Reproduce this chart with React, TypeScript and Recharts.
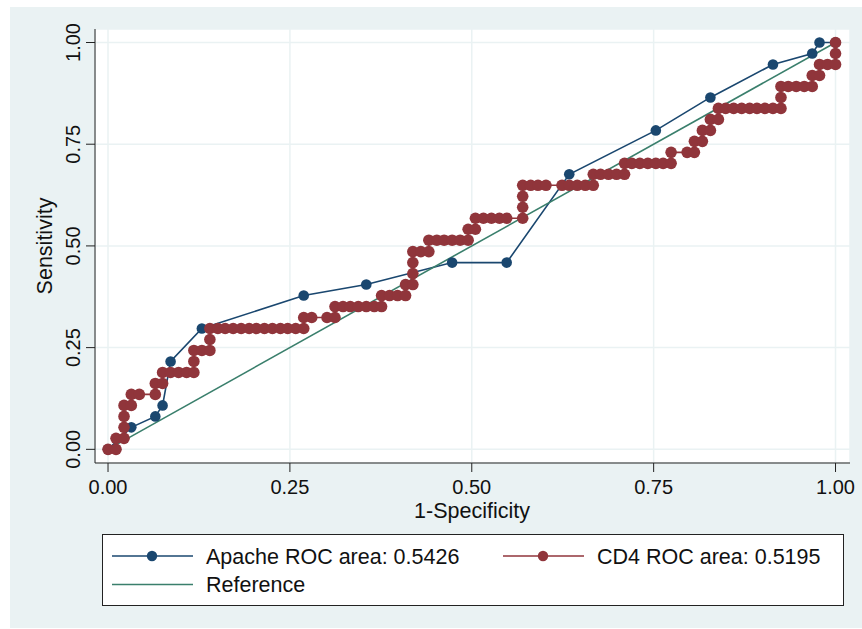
import { LineChart, Line, XAxis, YAxis, CartesianGrid } from "recharts";

// --- Data ---
const apacheFpr = [0, 0.032, 0.065, 0.075, 0.086, 0.129, 0.269, 0.355, 0.473, 0.548, 0.634, 0.753, 0.828, 0.914, 0.968, 0.978, 1];
const apacheTpr = [0, 0.054, 0.081, 0.108, 0.216, 0.297, 0.378, 0.405, 0.459, 0.459, 0.676, 0.784, 0.865, 0.946, 0.973, 1, 1];

const cd4Fpr = [
  0, 0.011, 0.011, 0.022, 0.022, 0.022, 0.022, 0.032, 0.032, 0.043, 0.065, 0.065, 0.075, 0.075, 0.086, 0.097,
  0.108, 0.118, 0.118, 0.118, 0.129, 0.14, 0.14, 0.14, 0.151, 0.161, 0.172, 0.183, 0.194, 0.204, 0.215, 0.226,
  0.237, 0.247, 0.258, 0.269, 0.269, 0.28, 0.301, 0.312, 0.312, 0.323, 0.333, 0.344, 0.355, 0.366, 0.376, 0.376,
  0.387, 0.398, 0.409, 0.409, 0.419, 0.419, 0.419, 0.419, 0.43, 0.441, 0.441, 0.452, 0.462, 0.473, 0.484, 0.495,
  0.495, 0.505, 0.505, 0.516, 0.527, 0.538, 0.548, 0.57, 0.57, 0.57, 0.57, 0.581, 0.591, 0.602, 0.624, 0.634,
  0.645, 0.656, 0.667, 0.667, 0.677, 0.688, 0.699, 0.71, 0.71, 0.72, 0.731, 0.742, 0.753, 0.763, 0.774, 0.774,
  0.796, 0.806, 0.806, 0.817, 0.817, 0.828, 0.828, 0.839, 0.839, 0.849, 0.86, 0.871, 0.882, 0.892, 0.903, 0.914,
  0.925, 0.925, 0.925, 0.935, 0.946, 0.957, 0.968, 0.968, 0.978, 0.978, 0.989, 1, 1, 1,
];
const cd4Tpr = [
  0, 0, 0.027, 0.027, 0.054, 0.081, 0.108, 0.108, 0.135, 0.135, 0.135, 0.162, 0.162, 0.189, 0.189, 0.189,
  0.189, 0.189, 0.216, 0.243, 0.243, 0.243, 0.27, 0.297, 0.297, 0.297, 0.297, 0.297, 0.297, 0.297, 0.297, 0.297,
  0.297, 0.297, 0.297, 0.297, 0.324, 0.324, 0.324, 0.324, 0.351, 0.351, 0.351, 0.351, 0.351, 0.351, 0.351, 0.378,
  0.378, 0.378, 0.378, 0.405, 0.405, 0.432, 0.459, 0.486, 0.486, 0.486, 0.514, 0.514, 0.514, 0.514, 0.514, 0.514,
  0.541, 0.541, 0.568, 0.568, 0.568, 0.568, 0.568, 0.568, 0.595, 0.622, 0.649, 0.649, 0.649, 0.649, 0.649, 0.649,
  0.649, 0.649, 0.649, 0.676, 0.676, 0.676, 0.676, 0.676, 0.703, 0.703, 0.703, 0.703, 0.703, 0.703, 0.703, 0.73,
  0.73, 0.73, 0.757, 0.757, 0.784, 0.784, 0.811, 0.811, 0.838, 0.838, 0.838, 0.838, 0.838, 0.838, 0.838, 0.838,
  0.838, 0.865, 0.892, 0.892, 0.892, 0.892, 0.892, 0.919, 0.919, 0.946, 0.946, 0.946, 0.973, 1,
];

const refFpr = [0, 1];
const refTpr = [0, 1];

const axisTicks = [0, 0.25, 0.5, 0.75, 1];

const legendItems = ["Apache ROC area: 0.5426", "CD4 ROC area: 0.5195", "Reference"];

const BLUE = "#1a476f";
const RED = "#90353b";
const GREEN = "#3a7f6c";
const BG = "#eaf2f3";
const FONT = "'Liberation Sans', Arial, Helvetica, sans-serif";

const toPoints = (xs: number[], ys: number[]) => xs.map((x, i) => ({ x, y: ys[i] }));

function XTick({ x, payload }: any) {
  return (
    <text x={x} y={493.5} textAnchor="middle" fontSize={20} fill="#111" fontFamily={FONT}>
      {Number(payload.value).toFixed(2)}
    </text>
  );
}

function YTick({ y, payload }: any) {
  return (
    <text
      x={80}
      y={y}
      textAnchor="middle"
      fontSize={20}
      fill="#111"
      fontFamily={FONT}
      transform={`rotate(-90, 80, ${y})`}
    >
      {Number(payload.value).toFixed(2)}
    </text>
  );
}

function XTitle() {
  return (
    <text x={472} y={518} textAnchor="middle" fontSize={21.5} fill="#111" fontFamily={FONT}>
      1-Specificity
    </text>
  );
}

function YTitle() {
  return (
    <text
      x={52}
      y={246}
      textAnchor="middle"
      fontSize={21.5}
      fill="#111"
      fontFamily={FONT}
      transform="rotate(-90, 52, 246)"
    >
      Sensitivity
    </text>
  );
}

function RocLegend() {
  return (
    <svg width={742} height={72} style={{ position: "absolute", left: 101.5, top: 534, overflow: "visible" }}>
      <rect x={0.5} y={0.5} width={741} height={71} fill="#fff" stroke="#222" strokeWidth={1} />
      <line x1={10} x2={91} y1={22} y2={22} stroke={BLUE} strokeWidth={1.6} />
      <circle cx={50} cy={22} r={5.2} fill={BLUE} />
      <text x={104} y={29.5} fontSize={21.5} fill="#111" fontFamily={FONT}>
        {legendItems[0]}
      </text>
      <line x1={401} x2={482} y1={22} y2={22} stroke={RED} strokeWidth={1.6} />
      <circle cx={441} cy={22} r={5.2} fill={RED} />
      <text x={495} y={29.5} fontSize={21.5} fill="#111" fontFamily={FONT}>
        {legendItems[1]}
      </text>
      <line x1={10} x2={91} y1={50.5} y2={50.5} stroke={GREEN} strokeWidth={1.6} />
      <text x={104} y={58} fontSize={21.5} fill="#111" fontFamily={FONT}>
        {legendItems[2]}
      </text>
    </svg>
  );
}

export default function App() {
  const apache = toPoints(apacheFpr, apacheTpr);
  const cd4 = toPoints(cd4Fpr, cd4Tpr);
  const ref = toPoints(refFpr, refTpr);

  return (
    <div style={{ position: "absolute", left: 0, top: 0, width: 862, height: 629, background: "#fff" }}>
      {/* outer graph region */}
      <div style={{ position: "absolute", left: 9.5, top: 7, right: 0, bottom: 1, background: BG }} />

      <div style={{ position: "absolute", left: 0, top: 0 }}>
        <LineChart width={862} height={629} margin={{ top: 29, right: 12, bottom: 106, left: 15 }}>
          <CartesianGrid fill="#fff" stroke={BG} strokeWidth={1.5} />
          <XAxis
            type="number"
            dataKey="x"
            domain={[-0.0179, 1.0199]}
            allowDataOverflow
            ticks={axisTicks}
            tick={<XTick />}
            tickSize={9}
            tickLine={{ stroke: "#222" }}
            axisLine={{ stroke: "#222" }}
            height={60}
            label={<XTitle />}
          />
          <YAxis
            type="number"
            dataKey="y"
            domain={[-0.0336, 1.0332]}
            allowDataOverflow
            ticks={axisTicks}
            tick={<YTick />}
            tickSize={9}
            tickLine={{ stroke: "#222" }}
            axisLine={{ stroke: "#222" }}
            width={80}
            label={<YTitle />}
          />
          <Line
            data={apache}
            dataKey="y"
            stroke={BLUE}
            strokeWidth={1.6}
            dot={{ r: 5.3, fill: BLUE, stroke: BLUE, strokeWidth: 0 }}
            activeDot={false}
            isAnimationActive={false}
          />
          <Line
            data={cd4}
            dataKey="y"
            stroke={RED}
            strokeWidth={1.6}
            dot={{ r: 5.8, fill: RED, stroke: RED, strokeWidth: 0 }}
            activeDot={false}
            isAnimationActive={false}
          />
          <Line
            data={ref}
            dataKey="y"
            stroke={GREEN}
            strokeWidth={1.6}
            dot={false}
            activeDot={false}
            isAnimationActive={false}
          />
        </LineChart>
      </div>

      <RocLegend />
    </div>
  );
}
